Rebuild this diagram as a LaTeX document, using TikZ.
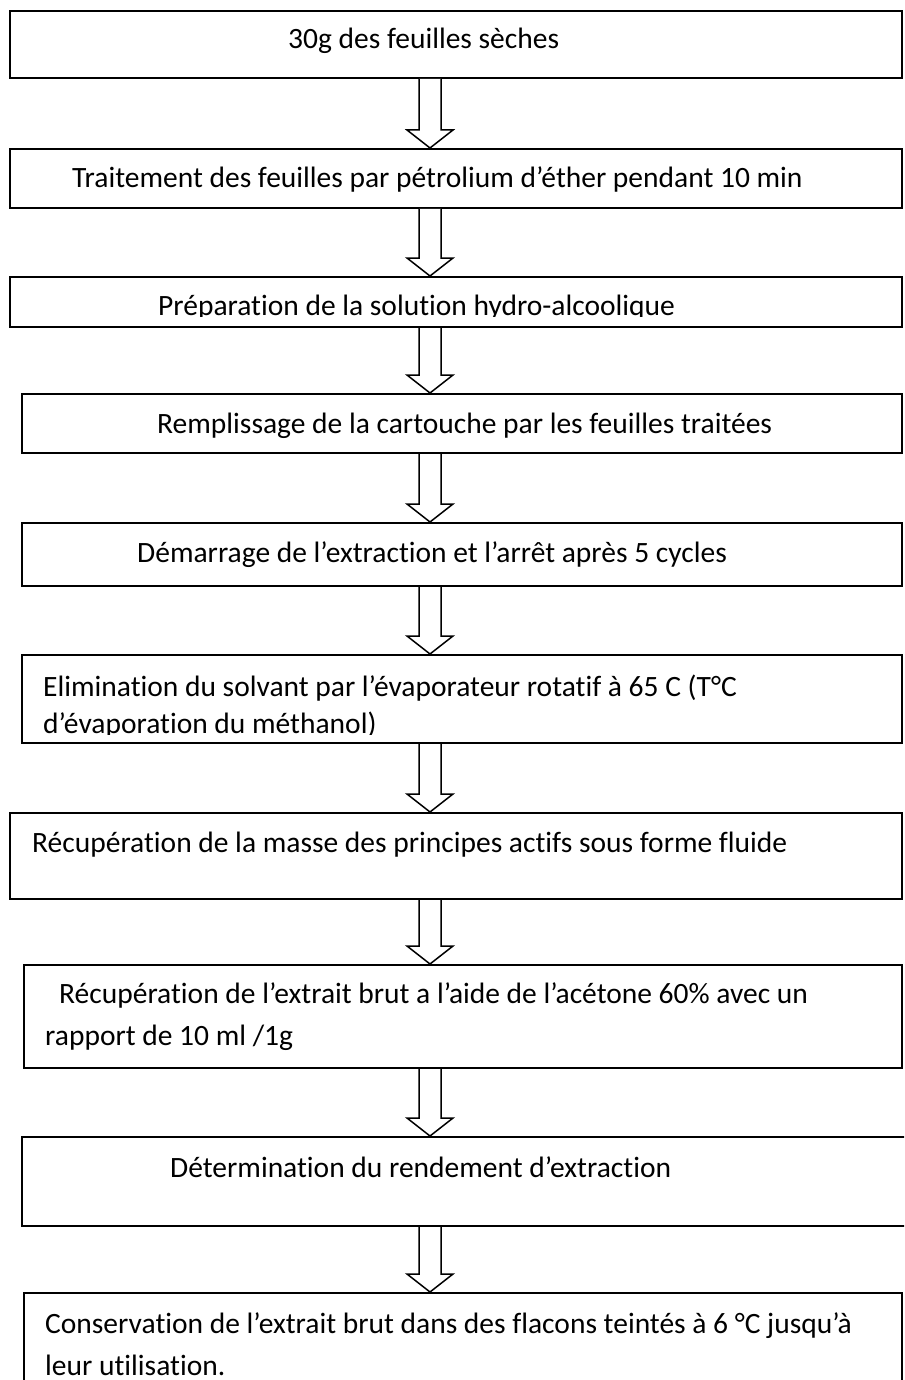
\documentclass[tikz,border=0pt]{standalone}
\usepackage{fontspec}
\setmainfont{Carlito}[Ligatures=NoCommon]
\usepackage{tikz}
\usetikzlibrary{fit, calc}

% hollow block arrow from the bottom of one box to the top of the next
\newcommand{\flowarrow}[2]{%
  \coordinate (fa-top) at (#1.south -| ax);
  \coordinate (fa-tip) at (#2.north -| ax);
  \draw[blockarrow] ($(fa-top)+(-11,0)$) -- ($(fa-tip)+(-11,-18)$) -- ($(fa-tip)+(-23,-18)$)
    -- (fa-tip) -- ($(fa-tip)+(23,-18)$) -- ($(fa-tip)+(11,-18)$) -- ($(fa-top)+(11,0)$);
}

\begin{document}
\begin{tikzpicture}[
    x=1pt, y=-1pt,
    stepbox/.style={draw=black, line width=2pt, inner sep=0pt},
    txt/.style={anchor=base west, inner sep=0pt, font=\fontsize{29.5}{36}\selectfont},
    blockarrow/.style={draw=black, fill=white, line width=1.5pt, line join=miter}
]
\clip (0,0) rectangle (904,1380);
\fill[white] (0,0) rectangle (904,1380);
\coordinate (ax) at (430,0);

% === Boxes ===
\node[stepbox, fit={(10,11) (902,78)}] (b1) {};
\node[stepbox, fit={(10,149) (902,208)}] (b2) {};
\node[stepbox, fit={(10,277) (902,327)}] (b3) {};
\node[stepbox, fit={(22,394) (902,453)}] (b4) {};
\node[stepbox, fit={(22,523) (902,586)}] (b5) {};
\node[stepbox, fit={(22,655) (902,743)}] (b6) {};
\node[stepbox, fit={(10,813) (902,899)}] (b7) {};
\node[stepbox, fit={(24,965) (902,1068)}] (b8) {};
\node[stepbox, fit={(22,1137) (912,1226)}] (b9) {};
\node[stepbox, fit={(24,1293) (902,1410)}] (b10) {};

% === Texts ===
\node[txt] (t1) at (288,49) {30g des feuilles sèches};
\node[txt] (t2) at (72,188) {Traitement des feuilles par pétrolium d’éther pendant 10 min};
\begin{scope}
  \clip (10,277) rectangle (902,316);
  \node[txt] (t3) at (158,315) {Préparation de la solution hydro-alcoolique};
\end{scope}
\node[txt] (t4) at (157,433) {Remplissage de la cartouche par les feuilles traitées};
\node[txt] (t5) at (137,562) {Démarrage de l’extraction et l’arrêt après 5 cycles};
\begin{scope}
  \clip (22,655) rectangle (902,734);
  \node[txt] (t6a) at (43,696) {Elimination du solvant par l’évaporateur rotatif à 65 C (T°C};
  \node[txt] (t6b) at (43,733) {d’évaporation du méthanol)};
\end{scope}
\node[txt] (t7) at (32,852) {Récupération de la masse des principes actifs sous forme fluide};
\node[txt] (t8a) at (59,1003) {Récupération de l’extrait brut a l’aide de l’acétone 60\% avec un};
\node[txt] (t8b) at (45,1045) {rapport de 10 ml /1g};
\node[txt] (t9) at (170,1177) {Détermination du rendement d’extraction};
\node[txt] (t10a) at (45,1333) {Conservation de l’extrait brut dans des flacons teintés à 6 °C jusqu’à};
\node[txt] (t10b) at (45,1375) {leur utilisation.};

% === Arrows ===
\foreach \a/\b in {b1/b2, b2/b3, b3/b4, b4/b5, b5/b6, b6/b7, b7/b8, b8/b9, b9/b10}
  \flowarrow{\a}{\b};

\end{tikzpicture}
\end{document}
